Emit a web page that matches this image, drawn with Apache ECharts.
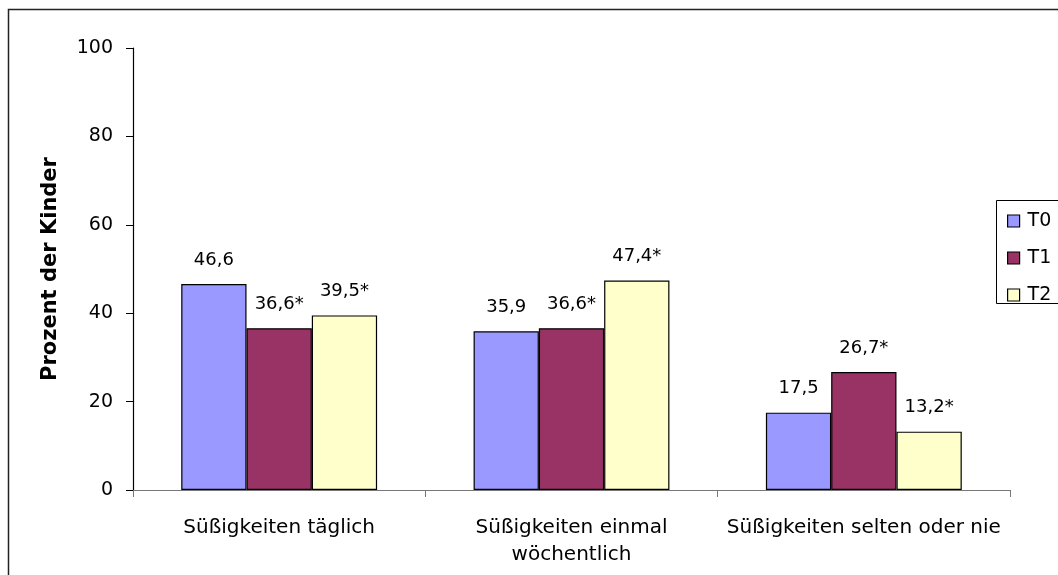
<!DOCTYPE html>
<html>
<head>
<meta charset="utf-8">
<script src="https://cdn.jsdelivr.net/npm/echarts@6/dist/echarts.min.js"></script>
<style>
  html, body { margin: 0; padding: 0; background: #fff; }
  #chart { width: 1058px; height: 575px; }
</style>
</head>
<body>
<div id="chart"></div>
<script>
// Anteil der Kinder nach Häufigkeit des Süßigkeitenkonsums (T0, T1, T2)
const categories = ['Süßigkeiten täglich', 'Süßigkeiten einmal\nwöchentlich', 'Süßigkeiten selten oder nie'];
const seriesNames = ['T0', 'T1', 'T2'];
const valuesT0 = [46.6, 35.9, 17.5];
const valuesT1 = [36.6, 36.6, 26.7];
const valuesT2 = [39.5, 47.4, 13.2];
const labelsT0 = ['46,6', '35,9', '17,5'];
const labelsT1 = ['36,6*', '36,6*', '26,7*'];
const labelsT2 = ['39,5*', '47,4*', '13,2*'];
const yTicks = [0, 20, 40, 60, 80, 100];

const colors = ['#9999FF', '#993366', '#FFFFCC'];
const font = '"DejaVu Sans", "Liberation Sans", Arial, sans-serif';

const chart = echarts.init(document.getElementById('chart'), null, { renderer: 'canvas' });

function makeSeries(name, values, labels, color) {
  return {
    name: name,
    type: 'bar',
    data: values,
    barGap: '0%',
    barCategoryGap: '33%',
    itemStyle: { color: color, borderColor: '#000', borderWidth: 1.2 },
    label: {
      show: true,
      position: 'top',
      distance: 15,
      color: '#000',
      fontFamily: font,
      fontSize: 18,
      formatter: p => labels[p.dataIndex]
    },
    emphasis: { disabled: true }
  };
}

chart.setOption({
  animation: false,
  backgroundColor: '#fff',
  grid: { left: 133, right: 48, top: 48, bottom: 85 },
  legend: {
    data: seriesNames,
    orient: 'vertical',
    left: 1007,
    top: 210,
    itemWidth: 12,
    itemHeight: 12,
    itemGap: 15,
    icon: 'rect',
    padding: 0,
    textStyle: { fontFamily: font, fontSize: 19, color: '#000', lineHeight: 22, padding: [0, 0, 0, 3] },
    itemStyle: { borderColor: '#000', borderWidth: 1.2 }
  },
  graphic: [
    {
      type: 'rect',
      shape: { x: 8.5, y: 9.5, width: 1100, height: 620 },
      style: { fill: 'none', stroke: '#222', lineWidth: 1.5 },
      z: 100
    },
    {
      type: 'rect',
      shape: { x: 996.5, y: 200.5, width: 100, height: 103 },
      style: { fill: 'none', stroke: '#000', lineWidth: 1 },
      z: 100
    }
  ],
  xAxis: {
    type: 'category',
    data: categories,
    axisLine: { show: true, lineStyle: { color: '#777', width: 1.2 } },
    axisTick: { show: true, length: 7, lineStyle: { color: '#777' } },
    axisLabel: {
      color: '#000', fontFamily: font, fontSize: 20, margin: 24, lineHeight: 27,
      interval: 0
    }
  },
  yAxis: {
    type: 'value',
    min: 0,
    max: 100,
    interval: 20,
    name: 'Prozent der Kinder',
    nameLocation: 'middle',
    nameGap: 72,
    nameTextStyle: { fontFamily: font, fontSize: 21, fontWeight: 'bold', color: '#000' },
    axisLine: { show: true, lineStyle: { color: '#000', width: 1.2 } },
    axisTick: { show: true, length: 7, lineStyle: { color: '#000' } },
    axisLabel: {
      color: '#000', fontFamily: font, fontSize: 19, margin: 20,
      formatter: v => (yTicks.indexOf(v) >= 0 ? String(v) : '')
    },
    splitLine: { show: false }
  },
  series: [
    makeSeries(seriesNames[0], valuesT0, labelsT0, colors[0]),
    makeSeries(seriesNames[1], valuesT1, labelsT1, colors[1]),
    makeSeries(seriesNames[2], valuesT2, labelsT2, colors[2])
  ]
});
</script>
</body>
</html>
